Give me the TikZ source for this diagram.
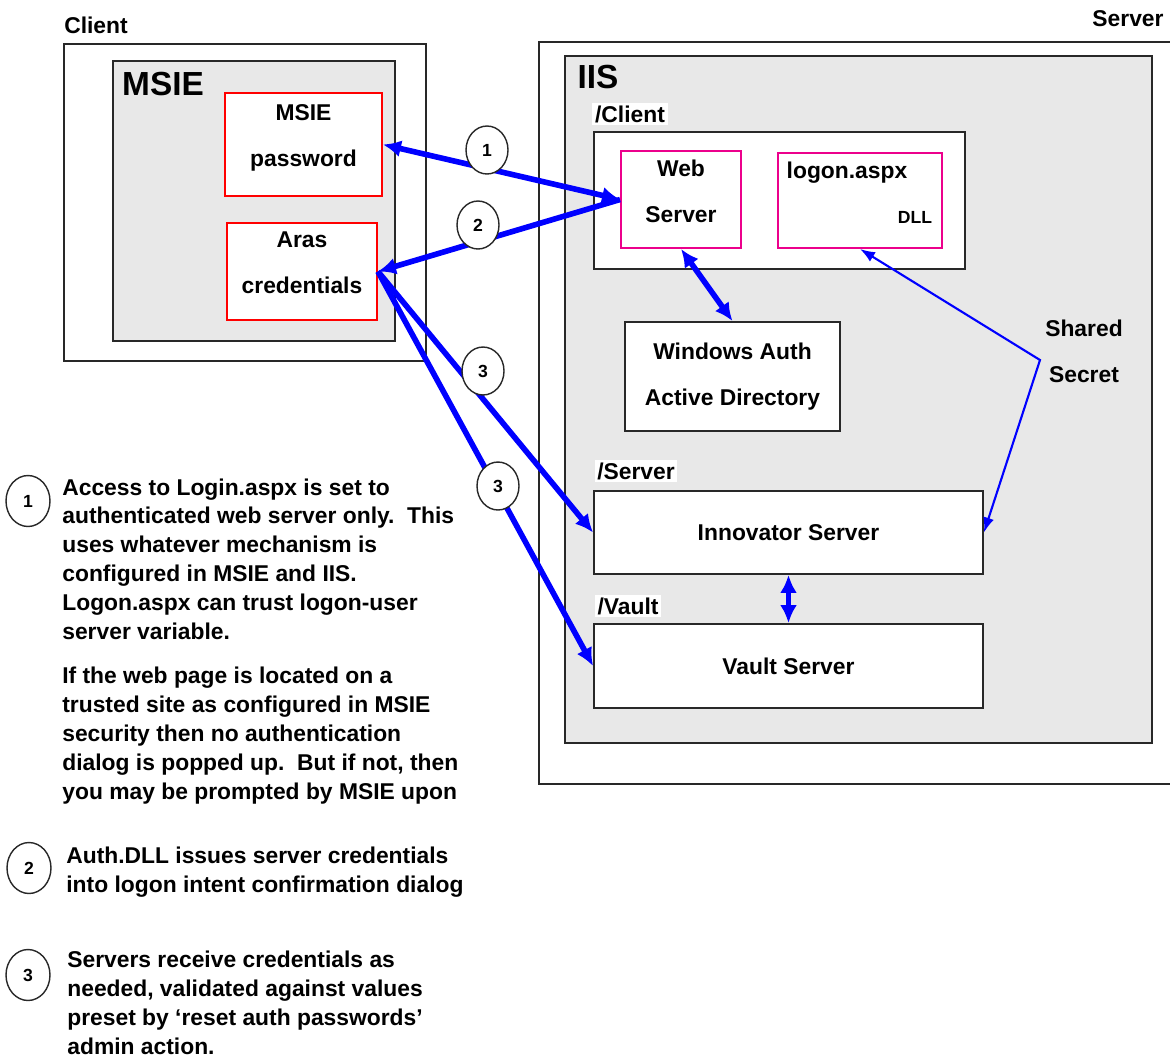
\documentclass[tikz,border=0pt]{standalone}
\usepackage{fontspec}
\setmainfont{Liberation Sans}
\usetikzlibrary{shapes.geometric,arrows.meta}
\definecolor{boxgray}{RGB}{232,232,232}
\definecolor{edgegray}{RGB}{40,40,40}
\newcommand{\boxfont}{\bfseries\fontsize{13}{26.2}\selectfont}
\newcommand{\notefont}{\bfseries\fontsize{13}{16.4}\selectfont}
\newcommand{\bigfont}{\bfseries\fontsize{19}{22}\selectfont}
\newcommand{\smallfont}{\bfseries\fontsize{10}{12}\selectfont}
\tikzstyle{plain_box}=[rectangle,draw=edgegray,line width=1.1pt,fill=white,inner sep=0pt,align=center,font=\boxfont]
\tikzstyle{gray_box}=[plain_box,fill=boxgray]
\tikzstyle{red_box}=[plain_box,draw=red,text depth=0.34cm]
\tikzstyle{pink_box}=[plain_box,draw=magenta,text depth=0.34cm]
\tikzstyle{dir_label}=[fill=white,inner sep=1.5pt,font=\boxfont]
\tikzstyle{num}=[ellipse,draw=edgegray,fill=white,line width=0.8pt,minimum width=0.84cm,minimum height=0.96cm,inner sep=0pt,font=\smallfont]
\tikzstyle{key}=[num,minimum width=0.88cm,minimum height=1.02cm]
\tikzstyle{note}=[align=left,inner sep=0pt,font=\notefont,anchor=west]
\tikzstyle{link}=[draw=blue,line width=3.2pt]
\tikzstyle{thin_link}=[draw=blue,line width=1.2pt,{Latex[length=0.3cm,width=0.22cm]}-{Latex[length=0.3cm,width=0.22cm]}]

\begin{document}
\begin{tikzpicture}[x=0.02cm,y=-0.02cm,>={Latex[length=0.36cm,width=0.34cm]}]
  \useasboundingbox (0,0) rectangle (1170,1059);

  \node[plain_box,minimum width=7.24cm,minimum height=6.34cm] (client) at (245,202.5) {};
  \node[font=\boxfont] (client_lbl) at (96,25) {Client};
  \node[gray_box,minimum width=5.64cm,minimum height=5.6cm] (msie) at (254,201) {};
  \node[font=\bigfont] (msie_lbl) at (163,84) {MSIE};
  \node[red_box,minimum width=3.14cm,minimum height=2.06cm] (pwd) at (303.5,144.5) {MSIE\\password};
  \node[red_box,minimum width=3cm,minimum height=1.94cm] (aras) at (302,271.5) {Aras\\credentials};

  \node[plain_box,minimum width=13cm,minimum height=14.84cm] (server) at (864,413) {};
  \node[font=\boxfont] (server_lbl) at (1128,19) {Server};
  \node[gray_box,minimum width=11.74cm,minimum height=13.74cm] (iis) at (858.5,399.5) {};
  \node[font=\bigfont] (iis_lbl) at (598,77) {IIS};

  \node[plain_box,minimum width=7.42cm,minimum height=2.74cm] (cdir) at (779.5,200.5) {};
  \node[dir_label] (cdir_lbl) at (630,114) {/Client};
  \node[pink_box,minimum width=2.4cm,minimum height=1.94cm] (web) at (681,199.5) {Web\\Server};
  \node[pink_box,minimum width=3.28cm,minimum height=1.9cm] (logon) at (860,200.5) {};
  \node[font=\boxfont] (logon_lbl) at (847,173) {logon.aspx};
  \node[font=\smallfont] (dll_lbl) at (915,217) {DLL};

  \node[plain_box,minimum width=4.3cm,minimum height=2.18cm] (ad) at (732.5,376.5) {Windows Auth\\Active Directory};
  \node[align=center,font=\boxfont] (shared) at (1084,351.5) {Shared\\Secret};

  \node[dir_label] (sdir_lbl) at (636,471) {/Server};
  \node[plain_box,minimum width=7.78cm,minimum height=1.66cm] (innov) at (788.5,532.5) {Innovator Server};
  \node[dir_label] (vdir_lbl) at (628,606) {/Vault};
  \node[plain_box,minimum width=7.78cm,minimum height=1.68cm] (vault) at (788.5,666) {Vault Server};

  \draw [link,<->] (web.west) -- (pwd.east);
  \draw [link,->] (web.west) -- (aras.east);
  \draw [link,->] (aras.east) -- (innov.west);
  \draw [link,->] (aras.east) -- (vault.west);
  \draw [link,<->] (web.south) -- (ad.north);
  \draw [link,<->] (innov.south) -- (vault.north);
  \coordinate (bend) at (1040,360);
  \draw [thin_link] (logon.south) -- (bend) -- (innov.east);

  \node[num] (n1) at (487,150) {1};
  \node[num] (n2) at (478,225) {2};
  \node[num] (n3a) at (483,371) {3};
  \node[num] (n3b) at (498,486) {3};

  \node[key] (k1) at (28,501) {1};
  \node[note] (note1a) at (62,559) {Access to Login.aspx is set to\\
    authenticated web server only.\ \ This\\
    uses whatever mechanism is\\
    configured in MSIE and IIS.\\
    Logon.aspx can trust logon-user\\
    server variable.};
  \node[note] (note1b) at (62,735.5) {If the web page is located on a\\
    trusted site as configured in MSIE\\
    security then no authentication\\
    dialog is popped up.\ \ But if not, then\\
    you may be prompted by MSIE upon};
  \node[key] (k2) at (29,868) {2};
  \node[note] (note2) at (66,872.5) {Auth.DLL issues server credentials\\
    into logon intent confirmation dialog};
  \node[key] (k3) at (28,975) {3};
  \node[note] (note3) at (67,1003) {Servers receive credentials as\\
    needed, validated against values\\
    preset by ‘reset auth passwords’\\
    admin action.};
\end{tikzpicture}
\end{document}
